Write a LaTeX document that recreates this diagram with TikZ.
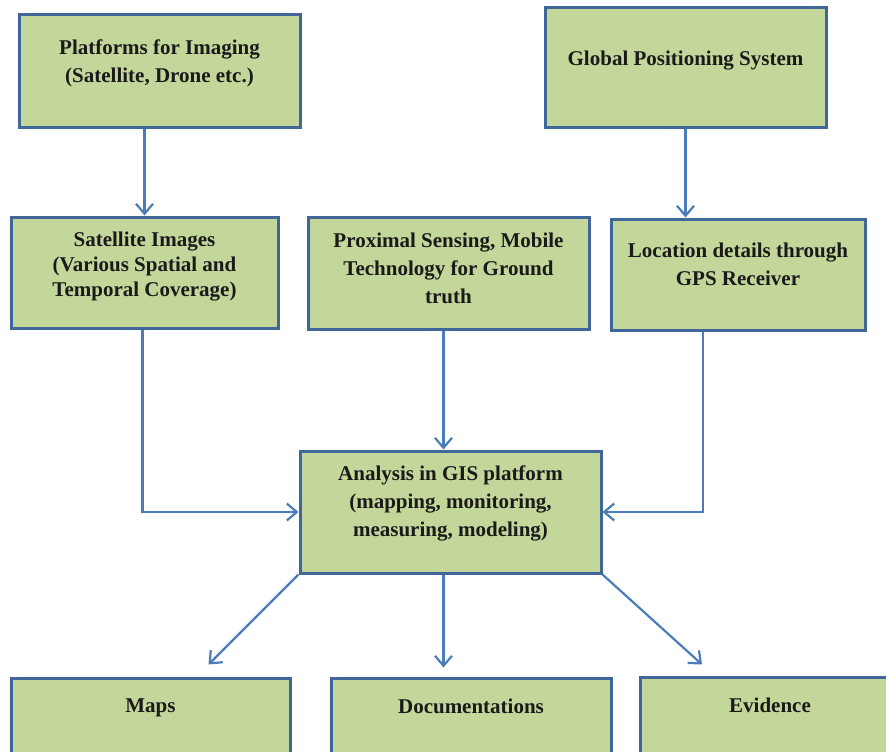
\documentclass[tikz,border=0pt]{standalone}
\usepackage{fontspec}
\setmainfont{Liberation Serif}
\usepackage{tikz}
\usetikzlibrary{positioning,calc,arrows.meta}
\definecolor{boxfill}{HTML}{C4D79B}
\definecolor{boxline}{HTML}{41669A}
\definecolor{arrline}{HTML}{4A7EBB}
\definecolor{txt}{HTML}{1A1A1A}
\tikzset{
  box/.style={draw=boxline, line width=3pt, fill=boxfill, rectangle, inner sep=0pt},
  lbl/.style={align=center, inner sep=0pt, text=txt, font=\fontsize{21}{28}\selectfont\bfseries},
  arr/.style={draw=arrline, line width=2.2pt, -{Straight Barb[length=10pt,width=17pt]}}
}
\begin{document}
\begin{tikzpicture}[x=1pt, y=-1pt]
\useasboundingbox (0,0) rectangle (886,752);
\node[box, minimum width=281, minimum height=112] (plat) at (159.5,71) {};
\node[box, minimum width=281, minimum height=119] (gps) at (685.5,67.5) {};
\node[box, minimum width=267, minimum height=111] (sat) at (144.5,272.5) {};
\node[box, minimum width=281, minimum height=112] (prox) at (448.5,273) {};
\node[box, minimum width=254, minimum height=111] (loc) at (738,274.5) {};
\node[box, minimum width=301, minimum height=122] (gis) at (450.5,512) {};
\node[box, minimum width=279, minimum height=112] (maps) at (150.5,734) {};
\node[box, minimum width=280, minimum height=112] (docs) at (471,734) {};
\node[box, minimum width=260, minimum height=113] (evid) at (770,733.5) {};
%
\node[lbl, below=26.5pt of plat.north] (platT) {Platforms for Imaging\\(Satellite, Drone etc.)};
\node[lbl, below=44pt of gps.north] (gpsT) {Global Positioning System};
\node[lbl, below=16pt of sat.north, font=\fontsize{21}{25}\selectfont\bfseries] (satT) {Satellite Images\\(Various Spatial and\\Temporal Coverage)};
\node[lbl, below=17.5pt of prox.north] (proxT) {Proximal Sensing, Mobile\\Technology for Ground\\truth};
\node[lbl, below=25pt of loc.north] (locT) {Location details through\\GPS Receiver};
\node[lbl, below=16.5pt of gis.north] (gisT) {Analysis in GIS platform\\(mapping, monitoring,\\measuring, modeling)};
\node[lbl, below=22.5pt of maps.north] (mapsT) {Maps};
\node[lbl, below=22.5pt of docs.north] (docsT) {Documentations};
\node[lbl, below=22.5pt of evid.north] (evidT) {Evidence};
%
\draw[arr] (sat.north |- plat.south) -- (sat.north);
\draw[arr] (gps.south) -- (gps.south |- loc.north);
\draw[arr] ($(prox.south)+(-5,0)$) -- ($(gis.north)+(-7,0)$);
\draw[arr] ($(sat.south)+(-2,0)$) |- (gis.west);
\draw[arr] ($(loc.south)+(-35,0)$) |- (gis.east);
%
\draw[arr] (gis.south west) -- ($(maps.north)+(58,-12)$);
\draw[arr] ($(gis.south)+(-7,0)$) -- ++(0,93);
\draw[arr] (gis.south east) -- ($(evid.north)+(-68,-11)$);
\end{tikzpicture}
\end{document}
